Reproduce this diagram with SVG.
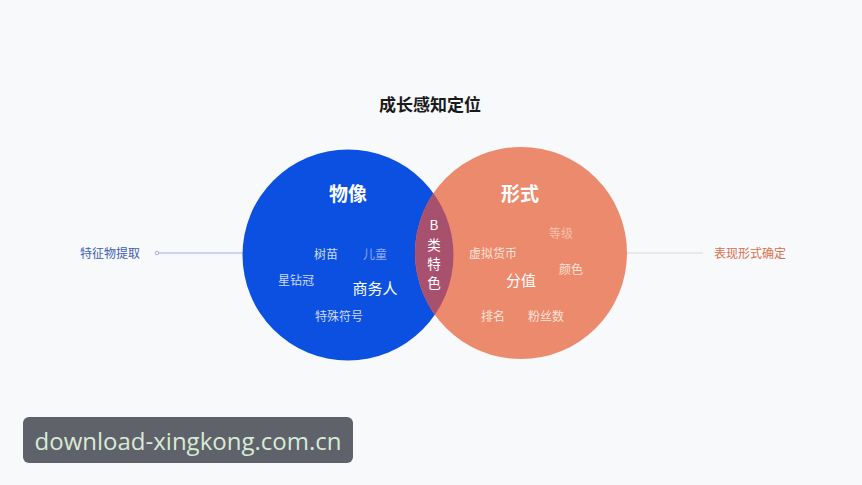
<svg xmlns="http://www.w3.org/2000/svg" width="862" height="485" viewBox="0 0 862 485">
<style>
text{font-family:"Noto Sans CJK SC","Noto Sans",sans-serif;text-anchor:middle}
.w{fill:#ffffff}
.bd{fill:#cfd9f7}
.od{fill:#fbe3d7}
.s{font-size:12px}
.m{font-size:15px}
.h{font-size:19px;font-weight:bold}
.l{font-size:13.5px;fill:#fff}
</style>
<defs>
<clipPath id="bc"><circle cx="348" cy="255" r="105.5"/></clipPath>
</defs>
<rect width="862" height="485" fill="#f8f9fb"/>
<text x="430" y="111" style="font-size:17px;font-weight:bold;fill:#1a1a1a">成长感知定位</text>
<g id="connectors">
<line x1="157" y1="253" x2="244" y2="253" stroke="#a7acd8" stroke-width="1"/>
<circle cx="157" cy="253" r="1.8" fill="#f8f9fb" stroke="#a7acd8" stroke-width="1"/>
<line x1="626" y1="253" x2="703" y2="253" stroke="#d8d8dc" stroke-width="1"/>
</g>
<g id="label-left"><text x="110" y="258" class="s" style="fill:#3e5db5">特征物提取</text></g>
<g id="label-right"><text x="750" y="258" class="s" style="fill:#d9704f">表现形式确定</text></g>
<g id="blue">
<circle cx="348" cy="255" r="105.5" fill="#0b50e0"/>
<text x="348" y="201" class="h w">物像</text>
<text x="326" y="259" class="s bd">树苗</text>
<text x="375" y="259" class="s" style="fill:#8fa8ee">儿童</text>
<text x="296" y="285" class="s bd">星钻冠</text>
<text x="375" y="294" class="m w">商务人</text>
<text x="339" y="321" class="s bd">特殊符号</text>
</g>
<g id="orange">
<circle cx="521" cy="253" r="106" fill="#ec8a6d"/>
<text x="520" y="201" class="h w">形式</text>
<text x="561" y="238" class="s" style="fill:#f6c0ab">等级</text>
<text x="493" y="258" class="s od">虚拟货币</text>
<text x="571" y="274" class="s od">颜色</text>
<text x="521" y="286" class="m w">分值</text>
<text x="493" y="321" class="s od">排名</text>
<text x="546" y="321" class="s od">粉丝数</text>
</g>
<g id="overlap">
<circle cx="521" cy="253" r="106" fill="#a8516f" clip-path="url(#bc)"/>
<text x="434" y="230" class="l">B</text>
<text x="434" y="250" class="l">类</text>
<text x="434" y="269" class="l">特</text>
<text x="434" y="288" class="l">色</text>
</g>
<g id="watermark">
<rect x="23" y="417" width="330" height="46" rx="6" fill="#5f616b"/>
<text x="188" y="450" style="font-family:'Open Sans','DejaVu Sans',sans-serif;font-size:24px;fill:#d9ebd2">download-xingkong.com.cn</text>
</g>
</svg>
